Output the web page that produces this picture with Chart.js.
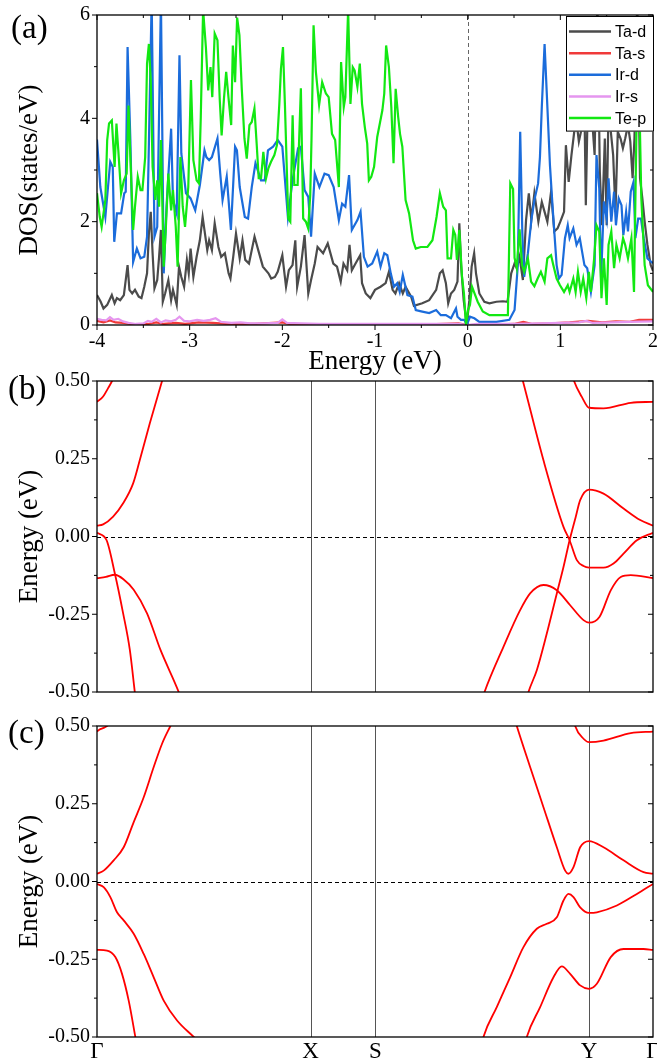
<!DOCTYPE html>
<html>
<head>
<meta charset="utf-8">
<script src="https://cdn.jsdelivr.net/npm/chart.js@4.4.1/dist/chart.umd.min.js"></script>
<style>
  body { margin: 0; background: #fff; }
  #wrap { position: relative; width: 657px; height: 1061px; }
  canvas { position: absolute; left: 0; }
  .lab { position: absolute; font-family: "Liberation Serif", serif; font-size: 33px; line-height: 33px; }
</style>
</head>
<body>
<div id="wrap">
  <canvas id="dos" width="657" height="380" style="top:0"></canvas>
  <canvas id="bandB" width="657" height="334" style="top:366px"></canvas>
  <canvas id="bandC" width="657" height="361" style="top:700px"></canvas>
  <div class="lab" style="left:11px;top:11px">(a)</div>
  <div class="lab" style="left:8px;top:372px">(b)</div>
  <div class="lab" style="left:8px;top:716px">(c)</div>
</div>
<script>
Chart.defaults.font.family = '"Liberation Serif", "Times New Roman", serif';
Chart.defaults.color = '#000';

// ---- (a) projected DOS: [energy (eV), states/eV] ----
const taD = [[-4.00,0.58],[-3.96,0.45],[-3.93,0.32],[-3.89,0.39],[-3.84,0.58],[-3.81,0.42],[-3.785,0.52],[-3.75,0.48],[-3.71,0.58],[-3.67,1.16],[-3.65,0.68],[-3.62,0.61],[-3.59,0.68],[-3.55,0.55],[-3.52,0.52],[-3.49,0.74],[-3.46,1.00],[-3.44,1.77],[-3.42,2.19],[-3.40,1.39],[-3.38,0.71],[-3.35,0.87],[-3.33,1.32],[-3.31,1.84],[-3.29,0.45],[-3.265,0.61],[-3.23,0.87],[-3.20,0.48],[-3.18,0.68],[-3.14,0.39],[-3.115,1.13],[-3.09,0.93],[-3.06,0.74],[-3.03,1.26],[-3.01,1.00],[-2.99,1.48],[-2.96,0.93],[-2.925,1.32],[-2.89,1.64],[-2.86,2.09],[-2.835,1.77],[-2.81,1.45],[-2.79,1.64],[-2.76,1.45],[-2.73,1.97],[-2.69,1.51],[-2.66,1.32],[-2.62,1.39],[-2.58,1.00],[-2.56,0.90],[-2.53,1.32],[-2.50,1.77],[-2.46,1.29],[-2.43,1.64],[-2.40,1.26],[-2.36,1.19],[-2.30,1.71],[-2.26,1.45],[-2.21,1.13],[-2.15,1.00],[-2.12,0.90],[-2.08,0.93],[-2.05,1.03],[-2.00,1.35],[-1.96,0.74],[-1.93,1.06],[-1.89,1.16],[-1.86,1.64],[-1.84,0.74],[-1.80,1.13],[-1.76,1.74],[-1.72,0.61],[-1.69,0.87],[-1.65,1.19],[-1.62,1.51],[-1.56,1.39],[-1.51,1.58],[-1.45,1.19],[-1.41,1.13],[-1.37,0.84],[-1.34,1.19],[-1.30,1.06],[-1.275,1.55],[-1.25,1.06],[-1.21,1.19],[-1.16,1.35],[-1.14,0.81],[-1.10,0.61],[-1.05,0.52],[-1.00,0.68],[-0.94,0.74],[-0.885,0.81],[-0.85,1.03],[-0.81,0.68],[-0.78,0.61],[-0.74,0.81],[-0.70,0.61],[-0.67,0.74],[-0.61,0.55],[-0.58,0.37],[-0.49,0.42],[-0.415,0.48],[-0.34,0.68],[-0.30,1.00],[-0.27,1.06],[-0.235,0.81],[-0.21,0.42],[-0.18,0.61],[-0.145,0.68],[-0.11,0.84],[-0.09,1.97],[-0.07,1.13],[-0.043,0.48],[-0.01,0.00],[0.018,0.48],[0.043,1.13],[0.07,1.39],[0.09,1.00],[0.126,0.61],[0.18,0.45],[0.235,0.42],[0.31,0.45],[0.38,0.46],[0.43,0.45],[0.47,1.00],[0.506,1.19],[0.53,1.10],[0.56,1.32],[0.596,0.87],[0.63,2.03],[0.66,2.55],[0.687,2.03],[0.72,2.55],[0.763,2.00],[0.80,2.38],[0.83,2.19],[0.86,2.00],[0.90,2.58],[0.935,1.81],[0.97,1.87],[1.00,2.00],[1.04,2.19],[1.06,3.48],[1.09,2.77],[1.12,3.29],[1.15,3.74],[1.175,3.93],[1.20,3.55],[1.23,3.80],[1.26,4.26],[1.275,2.32],[1.29,3.74],[1.32,4.13],[1.345,3.93],[1.37,3.29],[1.40,6.30],[1.426,2.97],[1.45,1.93],[1.48,3.61],[1.50,1.93],[1.52,4.26],[1.545,3.74],[1.57,3.29],[1.595,2.19],[1.62,3.74],[1.65,3.61],[1.675,3.42],[1.70,3.61],[1.73,3.87],[1.755,3.55],[1.78,2.84],[1.80,3.61],[1.83,6.30],[1.86,2.84],[1.885,2.45],[1.91,2.00],[1.94,1.55],[1.975,1.16],[2.00,1.05]];

const taS = [[-4.00,0.08],[-3.93,0.05],[-3.86,0.09],[-3.80,0.05],[-3.72,0.04],[-3.60,0.01],[-3.45,0.02],[-3.36,0.05],[-3.28,0.02],[-3.15,0.04],[-3.05,0.02],[-2.90,0.05],[-2.75,0.04],[-2.60,0.02],[-2.30,0.02],[-2.00,0.05],[-1.90,0.01],[-1.50,0.01],[-1.00,0.01],[-0.50,0.01],[-0.10,0.03],[0.00,0.00],[0.30,0.01],[0.50,0.02],[0.60,0.06],[0.70,0.02],[0.90,0.03],[1.10,0.05],[1.30,0.08],[1.45,0.05],[1.60,0.07],[1.75,0.06],[1.85,0.10],[2.00,0.10]];

const irD = [[-4.00,3.59],[-3.964,2.67],[-3.91,2.09],[-3.857,3.16],[-3.83,3.06],[-3.814,1.61],[-3.785,2.16],[-3.74,2.16],[-3.706,2.55],[-3.69,2.58],[-3.67,5.38],[-3.64,3.58],[-3.61,1.22],[-3.57,1.48],[-3.53,1.29],[-3.49,1.32],[-3.46,1.71],[-3.44,3.51],[-3.41,6.30],[-3.38,1.71],[-3.35,1.90],[-3.31,6.30],[-3.28,1.00],[-3.25,2.29],[-3.20,3.80],[-3.18,2.42],[-3.14,2.16],[-3.11,5.22],[-3.09,3.32],[-3.04,2.55],[-2.99,2.45],[-2.94,2.22],[-2.89,2.71],[-2.84,3.38],[-2.82,3.25],[-2.79,3.19],[-2.76,3.25],[-2.70,3.61],[-2.67,2.93],[-2.645,2.42],[-2.60,2.87],[-2.555,1.84],[-2.51,3.45],[-2.49,3.38],[-2.46,2.67],[-2.405,2.09],[-2.37,2.06],[-2.33,2.67],[-2.29,3.13],[-2.23,2.80],[-2.19,2.80],[-2.155,3.38],[-2.10,3.45],[-2.05,3.58],[-2.00,3.45],[-1.94,2.09],[-1.89,2.80],[-1.83,3.42],[-1.80,3.45],[-1.76,2.61],[-1.72,2.48],[-1.69,1.71],[-1.65,2.93],[-1.60,2.67],[-1.545,2.93],[-1.50,2.90],[-1.446,2.67],[-1.39,2.03],[-1.355,2.35],[-1.32,2.29],[-1.28,2.90],[-1.25,1.84],[-1.19,2.03],[-1.156,2.19],[-1.12,1.32],[-1.08,1.13],[-1.03,1.19],[-0.976,1.42],[-0.94,1.13],[-0.90,1.39],[-0.867,1.35],[-0.83,1.00],[-0.795,0.74],[-0.76,0.81],[-0.733,0.64],[-0.70,0.97],[-0.65,0.58],[-0.596,0.55],[-0.56,0.29],[-0.49,0.26],[-0.415,0.23],[-0.34,0.29],[-0.29,0.19],[-0.235,0.19],[-0.18,0.13],[-0.126,0.32],[-0.11,0.16],[-0.072,0.10],[-0.036,0.10],[-0.01,0.00],[0.025,0.16],[0.072,0.13],[0.126,0.06],[0.31,0.06],[0.45,0.10],[0.506,0.29],[0.54,1.13],[0.567,3.74],[0.59,1.77],[0.61,0.93],[0.65,1.39],[0.687,2.03],[0.72,2.42],[0.76,2.74],[0.78,3.25],[0.80,4.22],[0.83,5.44],[0.857,4.35],[0.888,3.09],[0.92,2.19],[0.96,1.16],[0.985,0.90],[1.014,0.97],[1.05,1.68],[1.08,1.93],[1.10,1.68],[1.14,1.87],[1.175,1.55],[1.21,1.68],[1.26,1.16],[1.29,1.10],[1.33,0.64],[1.37,1.16],[1.39,3.29],[1.42,2.64],[1.44,0.90],[1.47,2.39],[1.50,2.06],[1.52,2.84],[1.55,2.00],[1.58,2.58],[1.60,1.93],[1.63,2.45],[1.66,2.32],[1.68,1.74],[1.71,2.19],[1.73,1.81],[1.76,2.58],[1.79,2.77],[1.81,1.68],[1.84,2.06],[1.87,2.06],[1.90,1.68],[1.94,1.29],[1.975,1.23],[2.00,1.20]];

const irS = [[-4.00,0.12],[-3.95,0.10],[-3.90,0.09],[-3.86,0.15],[-3.82,0.10],[-3.77,0.12],[-3.72,0.07],[-3.66,0.04],[-3.58,0.02],[-3.50,0.03],[-3.45,0.08],[-3.41,0.06],[-3.36,0.12],[-3.31,0.05],[-3.26,0.09],[-3.20,0.07],[-3.15,0.10],[-3.11,0.16],[-3.06,0.08],[-3.00,0.07],[-2.92,0.10],[-2.85,0.08],[-2.78,0.10],[-2.72,0.13],[-2.66,0.06],[-2.55,0.04],[-2.45,0.05],[-2.35,0.03],[-2.20,0.03],[-2.05,0.04],[-2.00,0.11],[-1.95,0.04],[-1.80,0.03],[-1.60,0.02],[-1.20,0.02],[-0.80,0.02],[-0.40,0.02],[-0.10,0.02],[0.00,0.00],[0.10,0.02],[0.50,0.02],[0.80,0.03],[1.00,0.04],[1.20,0.05],[1.28,0.08],[1.35,0.04],[1.55,0.05],[1.75,0.06],[2.00,0.07]];

const teP = [[-4.00,2.55],[-3.97,2.09],[-3.95,1.90],[-3.91,2.42],[-3.89,3.58],[-3.87,3.90],[-3.84,3.96],[-3.81,3.06],[-3.79,3.90],[-3.77,3.38],[-3.74,2.55],[-3.71,2.80],[-3.68,2.93],[-3.66,4.25],[-3.64,3.25],[-3.61,1.84],[-3.59,2.29],[-3.56,2.87],[-3.53,2.61],[-3.51,2.61],[-3.48,3.25],[-3.46,5.06],[-3.44,5.44],[-3.42,4.74],[-3.40,3.06],[-3.37,2.42],[-3.35,2.80],[-3.33,2.29],[-3.31,3.58],[-3.28,1.13],[-3.26,1.77],[-3.23,2.93],[-3.20,2.22],[-3.18,2.61],[-3.15,1.90],[-3.13,1.13],[-3.10,3.25],[-3.075,2.29],[-3.05,1.90],[-3.015,2.67],[-2.986,4.74],[-2.96,3.19],[-2.925,2.80],[-2.90,2.74],[-2.88,4.03],[-2.855,6.10],[-2.825,5.38],[-2.80,4.54],[-2.775,4.99],[-2.756,4.41],[-2.73,5.64],[-2.70,5.51],[-2.675,4.35],[-2.655,3.67],[-2.63,4.38],[-2.606,4.90],[-2.58,4.38],[-2.552,3.87],[-2.534,5.41],[-2.51,4.70],[-2.488,5.95],[-2.463,5.61],[-2.438,4.58],[-2.409,3.61],[-2.384,3.22],[-2.355,3.87],[-2.33,3.93],[-2.301,4.19],[-2.276,3.48],[-2.255,2.84],[-2.23,2.84],[-2.205,3.35],[-2.176,2.84],[-2.151,3.03],[-2.122,3.16],[-2.086,3.29],[-2.058,3.48],[-2.033,4.26],[-2.015,4.96],[-1.993,5.38],[-1.972,4.26],[-1.954,3.16],[-1.936,2.06],[-1.914,2.00],[-1.889,4.06],[-1.871,2.71],[-1.835,2.71],[-1.80,4.58],[-1.775,2.06],[-1.746,2.00],[-1.721,1.87],[-1.699,2.51],[-1.685,3.61],[-1.663,5.80],[-1.638,4.90],[-1.603,4.26],[-1.57,4.70],[-1.53,4.48],[-1.50,4.41],[-1.464,3.70],[-1.43,3.58],[-1.39,2.67],[-1.366,5.09],[-1.337,4.22],[-1.32,4.41],[-1.29,6.10],[-1.265,4.28],[-1.24,4.99],[-1.22,4.93],[-1.19,4.61],[-1.164,5.06],[-1.14,4.28],[-1.11,3.83],[-1.084,3.51],[-1.066,2.80],[-1.04,2.87],[-1.01,3.06],[-0.976,3.64],[-0.92,4.16],[-0.90,4.48],[-0.88,5.41],[-0.85,4.99],[-0.824,4.22],[-0.80,3.13],[-0.777,4.57],[-0.75,4.03],[-0.73,3.70],[-0.705,3.45],[-0.67,2.42],[-0.632,2.16],[-0.59,1.64],[-0.56,1.48],[-0.506,1.51],[-0.434,1.51],[-0.38,1.64],[-0.336,2.09],[-0.30,2.55],[-0.264,2.29],[-0.235,2.22],[-0.217,1.29],[-0.18,1.29],[-0.155,1.84],[-0.134,1.74],[-0.116,1.26],[-0.09,1.84],[-0.061,0.93],[-0.04,0.61],[-0.018,0.00],[0.004,0.29],[0.025,0.39],[0.047,0.74],[0.072,0.62],[0.108,0.45],[0.163,0.26],[0.235,0.19],[0.343,0.19],[0.434,0.19],[0.46,2.74],[0.49,2.63],[0.506,1.30],[0.53,1.10],[0.56,1.85],[0.587,1.16],[0.61,1.03],[0.65,1.29],[0.684,0.84],[0.72,0.75],[0.755,0.90],[0.79,1.03],[0.83,0.84],[0.86,1.29],[0.90,1.35],[0.924,1.16],[0.96,0.90],[0.996,0.77],[1.04,0.64],[1.08,0.77],[1.10,0.64],[1.14,0.90],[1.165,0.64],[1.19,1.03],[1.22,0.64],[1.247,0.90],[1.28,0.52],[1.308,1.03],[1.33,0.64],[1.365,1.29],[1.39,1.93],[1.42,1.81],[1.444,0.52],[1.47,1.29],[1.50,0.39],[1.52,1.55],[1.55,1.81],[1.58,1.10],[1.605,1.55],[1.64,1.29],[1.677,1.68],[1.70,1.55],[1.73,1.29],[1.767,1.68],[1.795,0.64],[1.82,3.61],[1.84,5.50],[1.874,2.45],[1.91,1.16],[1.945,0.77],[2.00,0.64]];

const dosLabels = ['Ta-d', 'Ta-s', 'Ir-d', 'Ir-s', 'Te-p'];
const dosColors = ['#4b4b4b', '#f03a3a', '#1b6cdb', '#e596ef', '#12e812'];

// ---- (b), (c) band structures: [k (fraction of path), E (eV)] ----
const kTicks = [0, 0.384, 0.5005, 0.885, 1];
const kLabels = ['Γ', 'X', 'S', 'Y', 'Γ'];

// (b) without SOC
const b1 = [[0,0.433],[0.011,0.450],[0.020,0.477],[0.027,0.50],[0.035,0.535]];
const b2 = [[0,0.035],[0.011,0.039],[0.029,0.064],[0.047,0.107],[0.065,0.171],[0.077,0.246],[0.095,0.364],[0.117,0.50],[0.125,0.55]];
const b3 = [[0,0.012],[0.017,-0.011],[0.032,-0.118],[0.047,-0.247],[0.059,-0.364],[0.068,-0.50],[0.072,-0.56]];
const b4 = [[0,-0.134],[0.016,-0.130],[0.032,-0.123],[0.048,-0.138],[0.066,-0.171],[0.090,-0.247],[0.114,-0.364],[0.147,-0.50],[0.155,-0.54]];
const b5 = [[0.760,0.54],[0.766,0.50],[0.803,0.245],[0.839,0.031],[0.850,-0.012],[0.863,-0.076],[0.875,-0.095],[0.885,-0.100],[0.911,-0.100],[0.929,-0.087],[0.947,-0.055],[0.971,-0.012],[1.0,0.012]];
const b6 = [[0.770,-0.54],[0.776,-0.50],[0.791,-0.43],[0.809,-0.312],[0.827,-0.183],[0.839,-0.098],[0.850,-0.012],[0.861,0.063],[0.869,0.117],[0.885,0.151],[0.911,0.138],[0.947,0.090],[0.977,0.053],[1.0,0.035]];
const b7 = [[0.690,-0.54],[0.697,-0.50],[0.731,-0.355],[0.761,-0.237],[0.779,-0.183],[0.803,-0.156],[0.827,-0.173],[0.851,-0.221],[0.875,-0.269],[0.885,-0.277],[0.904,-0.258],[0.924,-0.173],[0.942,-0.130],[0.960,-0.124],[1.0,-0.134]];
const b8 = [[0.852,0.54],[0.858,0.50],[0.872,0.449],[0.885,0.414],[0.911,0.412],[0.960,0.430],[1.0,0.433]];

// (c) with SOC
const c1 = [[0,0.482],[0.004,0.488],[0.012,0.494],[0.018,0.50],[0.024,0.51]];
const c2 = [[0,0.025],[0.012,0.035],[0.030,0.068],[0.048,0.110],[0.066,0.191],[0.084,0.271],[0.102,0.368],[0.117,0.443],[0.132,0.50],[0.140,0.53]];
const c3 = [[0,-0.008],[0.012,-0.018],[0.024,-0.05],[0.036,-0.099],[0.048,-0.125],[0.066,-0.168],[0.084,-0.233],[0.102,-0.308],[0.120,-0.383],[0.144,-0.447],[0.174,-0.50],[0.185,-0.52]];
const c4 = [[0,-0.220],[0.018,-0.222],[0.033,-0.243],[0.045,-0.297],[0.057,-0.383],[0.069,-0.50],[0.073,-0.54]];
const c5 = [[0.750,0.53],[0.755,0.50],[0.779,0.368],[0.803,0.239],[0.827,0.110],[0.842,0.035],[0.848,0.025],[0.857,0.046],[0.869,0.110],[0.885,0.130],[0.911,0.110],[0.947,0.068],[0.983,0.030],[1.0,0.025]];
const c6 = [[0.690,-0.54],[0.695,-0.50],[0.719,-0.404],[0.743,-0.308],[0.767,-0.211],[0.791,-0.152],[0.809,-0.136],[0.827,-0.115],[0.839,-0.061],[0.848,-0.040],[0.857,-0.050],[0.869,-0.083],[0.885,-0.101],[0.899,-0.099],[0.935,-0.077],[0.971,-0.040],[1.0,-0.008]];
const c7 = [[0.768,-0.54],[0.773,-0.50],[0.797,-0.404],[0.821,-0.308],[0.836,-0.273],[0.851,-0.297],[0.869,-0.334],[0.885,-0.345],[0.899,-0.329],[0.924,-0.243],[0.947,-0.217],[0.983,-0.217],[1.0,-0.220]];
const c8 = [[0.855,0.54],[0.860,0.50],[0.875,0.459],[0.885,0.448],[0.911,0.453],[0.960,0.477],[1.0,0.482]];

const toXY = arr => arr.map(p => ({x: p[0], y: p[1]}));

// frame, mirrored ticks, Fermi level and high-symmetry lines
const framePlugin = {
  id: 'frame',
  beforeDatasetsDraw(chart, args, o) {
    const {ctx, chartArea: a, scales: {x, y}} = chart;
    ctx.save();
    ctx.lineWidth = 1;
    ctx.strokeStyle = '#555';
    (o.kLines || []).forEach(v => {
      const px = Math.round(x.getPixelForValue(v)) + 0.5;
      ctx.beginPath(); ctx.moveTo(px, a.top); ctx.lineTo(px, a.bottom); ctx.stroke();
    });
    ctx.setLineDash([4, 3]);
    if (o.fermi === 'x') {
      const px = Math.round(x.getPixelForValue(0)) + 0.5;
      ctx.strokeStyle = '#666';
      ctx.beginPath(); ctx.moveTo(px, a.top); ctx.lineTo(px, a.bottom); ctx.stroke();
    }
    if (o.fermi === 'y') {
      const py = Math.round(y.getPixelForValue(0)) + 0.5;
      ctx.strokeStyle = '#000';
      ctx.beginPath(); ctx.moveTo(a.left, py); ctx.lineTo(a.right, py); ctx.stroke();
    }
    ctx.restore();
  },
  afterDatasetsDraw(chart, args, o) {
    const {ctx, chartArea: a, scales: {x, y}} = chart;
    ctx.save();
    ctx.strokeStyle = '#000';
    ctx.lineWidth = 1.3;
    ctx.strokeRect(a.left, a.top, a.right - a.left, a.bottom - a.top);
    ctx.lineWidth = 1;
    const seg = (x1, y1, x2, y2) => { ctx.beginPath(); ctx.moveTo(x1, y1); ctx.lineTo(x2, y2); ctx.stroke(); };
    const yt = (list, len) => list.forEach(v => {
      const p = y.getPixelForValue(v);
      seg(a.left - len, p, a.left, p); seg(a.right - len, p, a.right, p);
    });
    const xt = (list, len) => list.forEach(v => {
      const p = x.getPixelForValue(v);
      seg(p, a.bottom, p, a.bottom + len); seg(p, a.top, p, a.top + len);
    });
    yt(o.yMajor || [], 5); yt(o.yMinor || [], 3);
    xt(o.xMajor || [], 5); xt(o.xMinor || [], 3);
    ctx.restore();
  }
};

// boxed legend in the top-right corner
const boxLegend = {
  id: 'boxLegend',
  afterDraw(chart) {
    const {ctx, chartArea: a} = chart;
    const w = 88, rowH = 21.65;
    const n = chart.data.datasets.length;
    const h = 16 + rowH * (n - 1) + 13;
    const x0 = a.right - w + 1, y0 = a.top + 1;
    ctx.save();
    ctx.fillStyle = '#fff';
    ctx.fillRect(x0, y0, w, h);
    ctx.strokeStyle = '#000';
    ctx.lineWidth = 1;
    ctx.strokeRect(x0 + 0.5, y0 + 0.5, w - 1, h - 1);
    ctx.font = '16px "Liberation Sans", Arial, sans-serif';
    ctx.textBaseline = 'middle';
    chart.data.datasets.forEach((ds, i) => {
      const cy = y0 + 15.5 + i * rowH;
      ctx.strokeStyle = ds.borderColor;
      ctx.lineWidth = 2.5;
      ctx.beginPath(); ctx.moveTo(x0 + 3, cy); ctx.lineTo(x0 + 45, cy); ctx.stroke();
      ctx.fillStyle = '#000';
      ctx.fillText(ds.label, x0 + 49, cy + 1);
    });
    ctx.restore();
  }
};

const fixY = w => s => { s.width = w; s.paddingTop = 0; s.paddingBottom = 0; };
const fixX = h => s => { s.height = h; s.paddingLeft = 0; s.paddingRight = 0; };

// ---- chart (a) ----
new Chart(document.getElementById('dos'), {
  type: 'line',
  data: {
    datasets: [taD, taS, irD, irS, teP].map((d, i) => ({
      label: dosLabels[i],
      data: toXY(d),
      borderColor: dosColors[i],
      borderWidth: 2.2,
      pointRadius: 0,
      tension: 0,
      order: 5 - i
    }))
  },
  options: {
    responsive: false,
    animation: false,
    layout: { padding: { top: 15, right: 4, left: 0, bottom: 0 } },
    plugins: {
      legend: { display: false },
      tooltip: { enabled: false },
      frame: {
        fermi: 'x',
        xMajor: [-4, -3, -2, -1, 0, 1, 2], xMinor: [-3.5, -2.5, -1.5, -0.5, 0.5, 1.5],
        yMajor: [0, 2, 4, 6], yMinor: [1, 3, 5]
      }
    },
    scales: {
      x: {
        type: 'linear', min: -4, max: 2,
        grid: { display: false, drawTicks: false },
        border: { display: false },
        ticks: { stepSize: 1, padding: 5, font: { size: 20 }, maxRotation: 0 },
        title: { display: true, text: 'Energy (eV)', font: { size: 27 }, padding: { top: 0, bottom: 2 } },
        afterFit: fixX(55)
      },
      y: {
        min: 0, max: 6,
        grid: { display: false, drawTicks: false },
        border: { display: false },
        ticks: { stepSize: 2, padding: 7, font: { size: 20 } },
        title: { display: true, text: 'DOS(states/eV)', font: { size: 27 }, padding: { top: 14, bottom: 0 } },
        afterFit: fixY(97)
      }
    }
  },
  plugins: [framePlugin, boxLegend]
});

// ---- band panels ----
function bandChart(id, bands, padTop, xHeight, showLabels) {
  return new Chart(document.getElementById(id), {
    type: 'line',
    data: {
      datasets: bands.map(d => ({
        data: toXY(d),
        borderColor: '#ff0000',
        borderWidth: 1.8,
        pointRadius: 0,
        cubicInterpolationMode: 'monotone'
      }))
    },
    options: {
      responsive: false,
      animation: false,
      layout: { padding: { top: padTop, right: 4, left: 0, bottom: 0 } },
      plugins: {
        legend: { display: false },
        tooltip: { enabled: false },
        frame: {
          fermi: 'y',
          kLines: kTicks.slice(1, 4),
          yMajor: [-0.5, -0.25, 0, 0.25, 0.5], yMinor: [-0.375, -0.125, 0.125, 0.375]
        }
      },
      scales: {
        x: {
          type: 'linear', min: 0, max: 1,
          grid: { display: false, drawTicks: false },
          border: { display: false },
          afterBuildTicks: s => { s.ticks = kTicks.map(v => ({ value: v })); },
          ticks: {
            display: showLabels, autoSkip: false, maxRotation: 0, padding: 1,
            font: { size: 23 },
            callback: (v, i) => kLabels[i]
          },
          afterFit: fixX(xHeight)
        },
        y: {
          min: -0.5, max: 0.5,
          grid: { display: false, drawTicks: false },
          border: { display: false },
          ticks: { stepSize: 0.25, padding: 7, font: { size: 20 }, callback: v => v.toFixed(2) },
          title: { display: true, text: 'Energy (eV)', font: { size: 27 }, padding: { top: 14, bottom: 0 } },
          afterFit: fixY(97)
        }
      }
    },
    plugins: [framePlugin]
  });
}

bandChart('bandB', [b1, b2, b3, b4, b5, b6, b7, b8], 15, 8, false);
bandChart('bandC', [c1, c2, c3, c4, c5, c6, c7, c8], 26, 24, true);
</script>
</body>
</html>
